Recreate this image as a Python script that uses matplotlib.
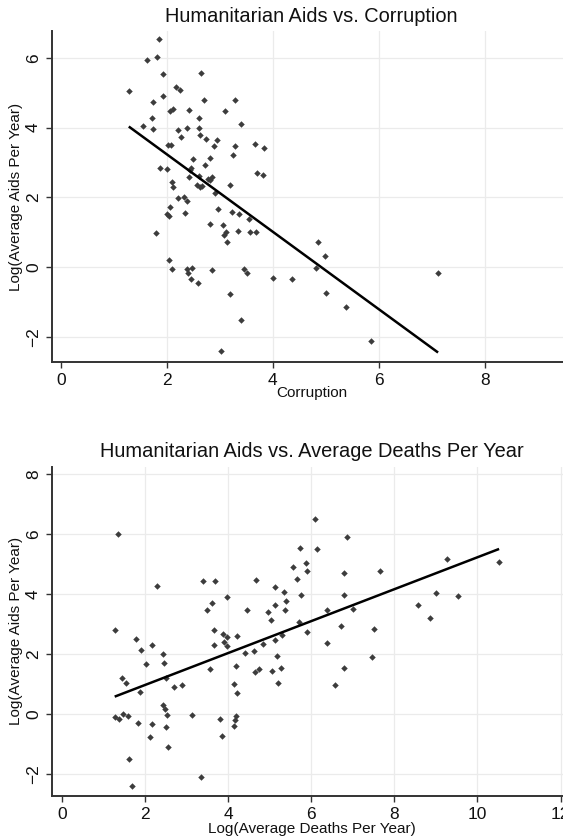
import matplotlib
matplotlib.use("Agg")
import matplotlib.pyplot as plt
import numpy as np

plt.rcParams['font.family'] = ['Liberation Sans', 'DejaVu Sans']

# ---------------- data: Humanitarian Aids vs. Corruption ----------------
corruption = [
    1.85, 1.63, 1.81, 1.92, 2.64, 1.28, 2.18, 2.25, 1.92, 1.73, 2.70, 3.28, 2.06, 2.11, 2.42, 3.10,
    1.71, 2.60, 3.39, 1.54, 1.74, 2.21, 2.38, 2.60, 2.27, 2.62, 2.74, 2.95, 2.88, 3.29, 3.67, 3.83,
    2.02, 2.08, 2.81, 3.24, 2.49, 1.87, 2.00, 2.72, 2.45, 2.44, 2.41, 2.61, 2.86, 2.81, 2.77, 3.70,
    3.82, 2.09, 2.12, 2.57, 2.62, 2.67, 3.19, 2.21, 2.32, 2.91,
    2.37, 2.06, 2.01, 2.03, 2.35, 2.97, 3.23, 3.36, 3.55, 1.79, 2.81, 3.05, 3.11, 3.07, 3.14, 3.34,
    3.57, 3.68, 2.04, 2.10, 2.37, 2.47, 2.39, 2.46, 2.58, 2.86, 3.46, 3.51, 4.00, 3.19, 3.40, 3.03,
    4.37, 4.81, 4.86, 4.99, 5.00, 5.38, 5.85, 7.12,
]
aid_corr = [
    6.54, 5.93, 6.02, 5.54, 5.57, 5.05, 5.16, 5.07, 4.90, 4.72, 4.78, 4.78, 4.47, 4.52, 4.49, 4.47,
    4.28, 4.28, 4.10, 4.05, 3.96, 3.93, 3.99, 3.99, 3.72, 3.78, 3.66, 3.64, 3.48, 3.48, 3.52, 3.41,
    3.49, 3.49, 3.14, 3.22, 3.09, 2.85, 2.82, 2.93, 2.85, 2.79, 2.59, 2.61, 2.59, 2.50, 2.52, 2.71,
    2.63, 2.44, 2.31, 2.36, 2.31, 2.33, 2.35, 1.98, 2.00, 2.12,
    1.90, 1.72, 1.53, 1.47, 1.55, 1.67, 1.57, 1.52, 1.39, 0.99, 1.23, 1.20, 1.00, 0.93, 0.72, 1.04,
    1.02, 1.02, 0.20, -0.05, -0.04, -0.01, -0.15, -0.33, -0.45, -0.07, -0.06, -0.16, -0.31, -0.77, -1.50, -2.39,
    -0.33, -0.03, 0.73, 0.32, -0.74, -1.13, -2.12, -0.15,
]
fit1_x = [1.28, 7.12]
fit1_y = [4.03, -2.44]

# ---------------- data: Humanitarian Aids vs. Average Deaths Per Year ----------------
deaths = [
    1.36, 2.28, 3.39, 3.69, 4.66, 3.97, 3.62, 3.48, 4.46, 4.97, 5.03, 5.13, 5.13, 1.27, 1.78, 3.67,
    3.88, 3.97, 4.21,
    3.91, 3.97, 3.66, 2.16, 1.90, 2.43, 2.46, 2.03, 1.44, 1.54, 2.51, 1.89, 2.70, 2.88, 3.57, 4.18,
    4.41, 4.62, 4.84, 5.12, 4.64, 4.74, 5.06, 4.13, 4.21, 2.44, 2.48, 2.53, 1.28, 1.37, 1.46, 1.59,
    1.84, 2.16, 2.51, 2.12, 2.55, 3.12, 3.81, 3.86, 4.20, 4.16, 4.15, 1.61, 3.35, 1.69,
    6.09, 6.85, 5.72, 6.14, 5.57, 5.87, 5.90, 6.78, 7.65, 5.65, 5.35, 5.40, 5.38, 5.75, 6.78, 7.01,
    6.38, 5.71, 5.90, 6.71, 7.52, 5.30, 6.38, 5.18, 7.47, 5.28, 6.78, 5.21, 6.56, 8.57, 8.86, 9.01,
    9.27, 9.53, 10.52,
]
aid_deaths = [
    6.01, 4.29, 4.43, 4.43, 4.48, 3.92, 3.71, 3.49, 3.49, 3.41, 3.14, 4.25, 3.64, 2.82, 2.50, 2.82,
    2.68, 2.59, 2.60,
    2.40, 2.29, 2.31, 2.31, 2.13, 2.01, 1.70, 1.67, 1.22, 1.05, 1.22, 0.73, 0.90, 0.98, 1.52, 1.61,
    2.03, 2.10, 2.33, 2.47, 1.41, 1.51, 1.45, 1.02, 0.71, 0.30, 0.19, -0.02, -0.08, -0.17, 0.01, -0.06,
    -0.29, -0.33, -0.43, -0.77, -1.10, -0.01, -0.16, -0.73, -0.05, -0.20, -0.38, -1.48, -2.09, -2.40,
    6.52, 5.90, 5.55, 5.52, 4.91, 5.04, 4.78, 4.70, 4.78, 4.51, 4.09, 3.78, 3.47, 3.99, 3.99, 3.51,
    3.48, 3.08, 2.75, 2.93, 2.85, 2.64, 2.38, 1.94, 1.90, 1.53, 1.55, 1.04, 0.97, 3.64, 3.20, 4.05,
    5.19, 3.95, 5.08,
]
fit2_x = [1.27, 10.52]
fit2_y = [0.59, 5.51]

titles = ["Humanitarian Aids vs. Corruption", "Humanitarian Aids vs. Average Deaths Per Year"]
xlabels = ["Corruption", "Log(Average Deaths Per Year)"]
ylabel = "Log(Average Aids Per Year)"
xticks1 = [0, 2, 4, 6, 8]
yticks1 = [-2, 0, 2, 4, 6]
xticks2 = [0, 2, 4, 6, 8, 10, 12]
yticks2 = [-2, 0, 2, 4, 6, 8]

W, H = 563, 840
fig = plt.figure(figsize=(W / 100, H / 100), dpi=100)
fig.patch.set_facecolor('white')

MARK = '#3c3c3c'
SPINE = '#333333'
GRID = '#ebebeb'


def px_axes(left, right, top, bottom):
    return [left / W, 1 - bottom / H, (right - left) / W, (bottom - top) / H]


def style(ax, xt, yt, xlim, ylim):
    ax.set_xlim(*xlim)
    ax.set_ylim(*ylim)
    ax.set_xticks(xt)
    ax.set_yticks(yt)
    for s in ['top', 'right']:
        ax.spines[s].set_visible(False)
    for s in ['left', 'bottom']:
        ax.spines[s].set_color(SPINE)
        ax.spines[s].set_linewidth(1.4)
    ax.grid(True, color=GRID, linewidth=0.9)
    ax.set_axisbelow(True)
    # hide vertical grid line at x=0
    for loc, gl in zip(ax.get_xticks(), ax.xaxis.get_gridlines()):
        if loc == 0:
            gl.set_visible(False)
    ax.tick_params(axis='both', direction='out', length=4, width=1.0, color=SPINE,
                   labelsize=12.5, labelcolor='#111111', pad=4)
    for lab in ax.get_yticklabels():
        lab.set_rotation(90)
        lab.set_va('center')


# top panel
ax1 = fig.add_axes(px_axes(52.1, 571, 31, 362.3))
style(ax1, xticks1, yticks1, (-0.168, 9.63), (-2.72, 6.765))
ax1.plot(corruption, aid_corr, linestyle='none', marker='D', ms=3.3, color=MARK, mew=0)
ax1.plot(fit1_x, fit1_y, color='black', lw=1.8, solid_capstyle='butt')

# bottom panel
ax2 = fig.add_axes(px_axes(52.1, 571, 466.7, 795.7))
style(ax2, xticks2, yticks2, (-0.236, 12.25), (-2.71, 8.25))
ax2.plot(deaths, aid_deaths, linestyle='none', marker='D', ms=3.3, color=MARK, mew=0)
ax2.plot(fit2_x, fit2_y, color='black', lw=1.8, solid_capstyle='butt')

# text
fig.text(311.5 / W, 1 - 16 / H, titles[0], ha='center', va='center', fontsize=14.4, color='#111111')
fig.text(311.5 / W, 1 - 451.7 / H, titles[1], ha='center', va='center', fontsize=14.4, color='#111111')
fig.text(311.5 / W, 1 - 393.3 / H, xlabels[0], ha='center', va='center', fontsize=11, color='#111111')
fig.text(311.5 / W, 1 - 829 / H, xlabels[1], ha='center', va='center', fontsize=11, color='#111111')
fig.text(16 / W, 1 - 196.7 / H, ylabel, ha='center', va='center', rotation=90, fontsize=11, color='#111111')
fig.text(16 / W, 1 - 631.2 / H, ylabel, ha='center', va='center', rotation=90, fontsize=11, color='#111111')

fig.savefig('out.png', dpi=100, facecolor='white')
